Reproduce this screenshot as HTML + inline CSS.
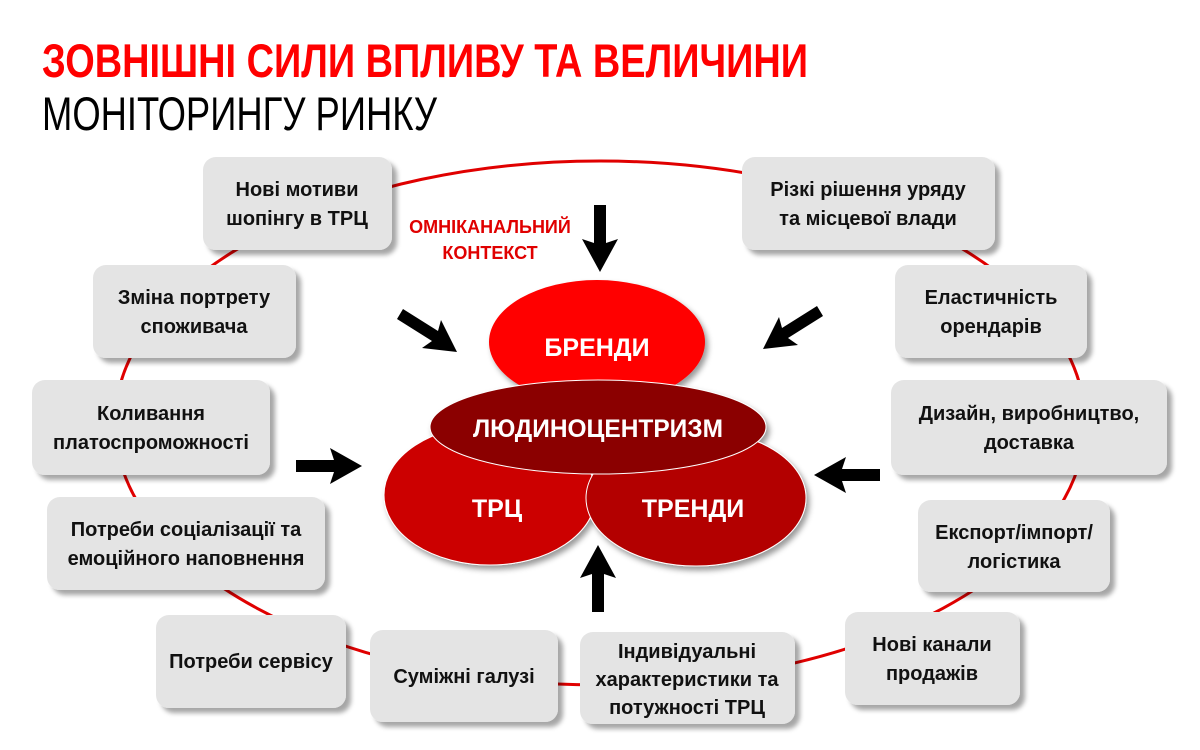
<!DOCTYPE html>
<html><head><meta charset="utf-8"><style>
html,body{margin:0;padding:0;background:#fff;width:1200px;height:750px;overflow:hidden}
svg{display:block}
.t{font-family:"Liberation Sans",sans-serif;font-weight:bold;font-size:20px;fill:#111;text-anchor:middle}
.w{font-family:"Liberation Sans",sans-serif;font-weight:bold;fill:#fff;text-anchor:middle}
</style></head><body>
<svg width="1200" height="750" viewBox="0 0 1200 750" xmlns="http://www.w3.org/2000/svg">
<defs>
<filter id="sh" x="-10%" y="-10%" width="130%" height="140%"><feDropShadow dx="5" dy="5" stdDeviation="2.5" flood-color="#000" flood-opacity="0.35"/></filter>
<filter id="sh2" x="-10%" y="-10%" width="130%" height="140%"><feDropShadow dx="3" dy="4" stdDeviation="3" flood-color="#000" flood-opacity="0.4"/></filter>
</defs>
<text x="42" y="77" font-family="Liberation Sans,sans-serif" font-weight="bold" font-size="47" fill="#ff0000" textLength="766" lengthAdjust="spacingAndGlyphs">ЗОВНІШНІ СИЛИ ВПЛИВУ ТА ВЕЛИЧИНИ</text>
<text x="42" y="130" font-family="Liberation Sans,sans-serif" font-size="47" fill="#000" textLength="395" lengthAdjust="spacingAndGlyphs">МОНІТОРИНГУ РИНКУ</text>

<ellipse cx="600" cy="423" rx="485" ry="262" fill="none" stroke="#e00000" stroke-width="3"/>

<g filter="url(#sh)" fill="#e4e4e4">
<rect x="203" y="157" width="189" height="93" rx="13"/>
<rect x="93" y="265" width="203" height="93" rx="13"/>
<rect x="32" y="380" width="238" height="95" rx="13"/>
<rect x="47" y="497" width="278" height="93" rx="13"/>
<rect x="156" y="615" width="190" height="93" rx="13"/>
<rect x="370" y="630" width="188" height="92" rx="13"/>
<rect x="580" y="632" width="215" height="92" rx="13"/>
<rect x="845" y="612" width="175" height="93" rx="13"/>
<rect x="918" y="500" width="192" height="92" rx="13"/>
<rect x="891" y="380" width="276" height="95" rx="13"/>
<rect x="895" y="265" width="192" height="93" rx="13"/>
<rect x="742" y="157" width="253" height="93" rx="13"/>
</g>
<g class="t">
<text x="297" y="196">Нові мотиви</text><text x="297" y="225">шопінгу в ТРЦ</text>
<text x="194" y="304">Зміна портрету</text><text x="194" y="333">споживача</text>
<text x="151" y="420">Коливання</text><text x="151" y="449">платоспроможності</text>
<text x="186" y="536">Потреби соціалізації та</text><text x="186" y="565">емоційного наповнення</text>
<text x="251" y="668">Потреби сервісу</text>
<text x="464" y="683">Суміжні галузі</text>
<text x="687" y="658">Індивідуальні</text><text x="687" y="686">характеристики та</text><text x="687" y="714">потужності ТРЦ</text>
<text x="932" y="651">Нові канали</text><text x="932" y="680">продажів</text>
<text x="1014" y="539">Експорт/імпорт/</text><text x="1014" y="568">логістика</text>
<text x="1029" y="420">Дизайн, виробництво,</text><text x="1029" y="449">доставка</text>
<text x="991" y="304">Еластичність</text><text x="991" y="333">орендарів</text>
<text x="868" y="196">Різкі рішення уряду</text><text x="868" y="225">та місцевої влади</text>
</g>

<text x="490" y="233" font-family="Liberation Sans,sans-serif" font-weight="bold" font-size="18" fill="#e00000" text-anchor="middle">ОМНІКАНАЛЬНИЙ</text>
<text x="490" y="259" font-family="Liberation Sans,sans-serif" font-weight="bold" font-size="18" fill="#e00000" text-anchor="middle">КОНТЕКСТ</text>

<g fill="#000">
<path d="M594,205 h12 v38 l12,-4 l-18,33 l-18,-33 l12,4 Z"/>
<path d="M592,612 h12 v-38 l12,4 l-18,-33 l-18,33 l12,-4 Z"/>
<path d="M296,460 h38 l-4,-12 l32,18 l-32,18 l4,-12 h-38 Z"/>
<path d="M880,469 h-38 l4,-12 l-32,18 l32,18 l-4,-12 h38 Z"/>
<path d="M403,309 l35,22 l3,-11 l16,32 l-35,-4 l10,-7 l-35,-22 Z"/>
<path d="M817,306 l-35,22 l-3,-11 l-16,32 l35,-4 l-10,-7 l35,-22 Z"/>
</g>

<g filter="url(#sh2)">
<ellipse cx="597" cy="342" rx="108" ry="62" fill="#ff0000"/>
<ellipse cx="490" cy="495" rx="106" ry="70" fill="#cc0000" stroke="#fff" stroke-width="1"/>
<ellipse cx="696" cy="498" rx="110" ry="68" fill="#b30000" stroke="#fff" stroke-width="1"/>
<ellipse cx="598" cy="427" rx="168" ry="47" fill="#8b0000" stroke="#fff" stroke-width="1"/>
</g>
<text class="w" x="597" y="356" font-size="25">БРЕНДИ</text>
<text class="w" x="598" y="437" font-size="25" textLength="250" lengthAdjust="spacingAndGlyphs">ЛЮДИНОЦЕНТРИЗМ</text>
<text class="w" x="497" y="517" font-size="25">ТРЦ</text>
<text class="w" x="693" y="517" font-size="25">ТРЕНДИ</text>
</svg>
</body></html>
